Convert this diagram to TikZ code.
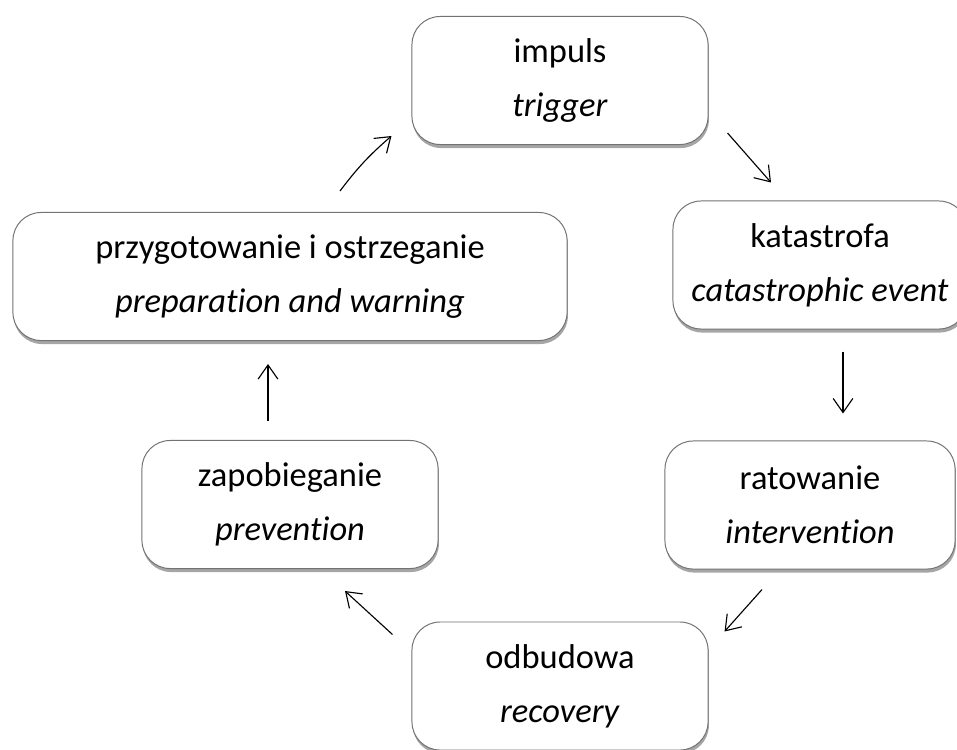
\documentclass[tikz,border=0pt]{standalone}
\usepackage{fontspec}
\setmainfont{Carlito}[RawFeature=-liga]
\usetikzlibrary{arrows.meta,shadows,calc}

\tikzset{
    stagebox/.style={draw=black!55, line width=0.7pt, fill=white, rounded corners=20pt,
        minimum width=7.4cm, minimum height=3.2cm, align=center,
        font=\fontsize{24.5}{38.4}\selectfont,
        drop shadow={shadow xshift=0.6pt, shadow yshift=-2.5pt, fill=black, opacity=0.35}},
    cyclearrow/.style={line width=0.8pt, -{Straight Barb[length=10pt,width=14pt]}}
}

\begin{document}
\begin{tikzpicture}[x=0.025cm,y=-0.025cm]
        \useasboundingbox (0,0) rectangle (957,749);

        \node[stagebox] (impuls) at (560,80.5) {impuls\\\textit{trigger}};
        \node[stagebox, minimum width=7.35cm] (katastrofa) at (820,265) {katastrofa\\\textit{catastrophic event}};
        \node[stagebox, minimum width=7.25cm] (ratowanie) at (810,505) {ratowanie\\\textit{intervention}};
        \node[stagebox] (odbudowa) at (560,686) {odbudowa\\\textit{recovery}};
        \node[stagebox] (zapobieganie) at (290,504.5) {zapobieganie\\\textit{prevention}};
        \node[stagebox, minimum width=13.85cm] (przygotowanie) at (290,276.5) {przygotowanie i ostrzeganie\\\textit{preparation and warning}};

        \draw[cyclearrow] ($(przygotowanie.north)+(50,-21)$) to[bend left=6] ($(impuls.south west)+(-20,-9)$);
        \draw[cyclearrow] ($(impuls.south east)+(19,-12)$) -- ($(katastrofa.north)+(-49,-18)$);
        \draw[cyclearrow] ($(katastrofa.south)+(23,22)$) -- ($(ratowanie.north)+(33,-27)$);
        \draw[cyclearrow] ($(ratowanie.south)+(-48,20)$) -- ($(odbudowa.north east)+(16,10)$);
        \draw[cyclearrow] ($(odbudowa.north west)+(-19,13)$) -- ($(zapobieganie.south)+(55,22)$);
        \draw[cyclearrow] ($(zapobieganie.north)+(-22,-19)$) -- ($(przygotowanie.south)+(-22,23)$);
\end{tikzpicture}
\end{document}
